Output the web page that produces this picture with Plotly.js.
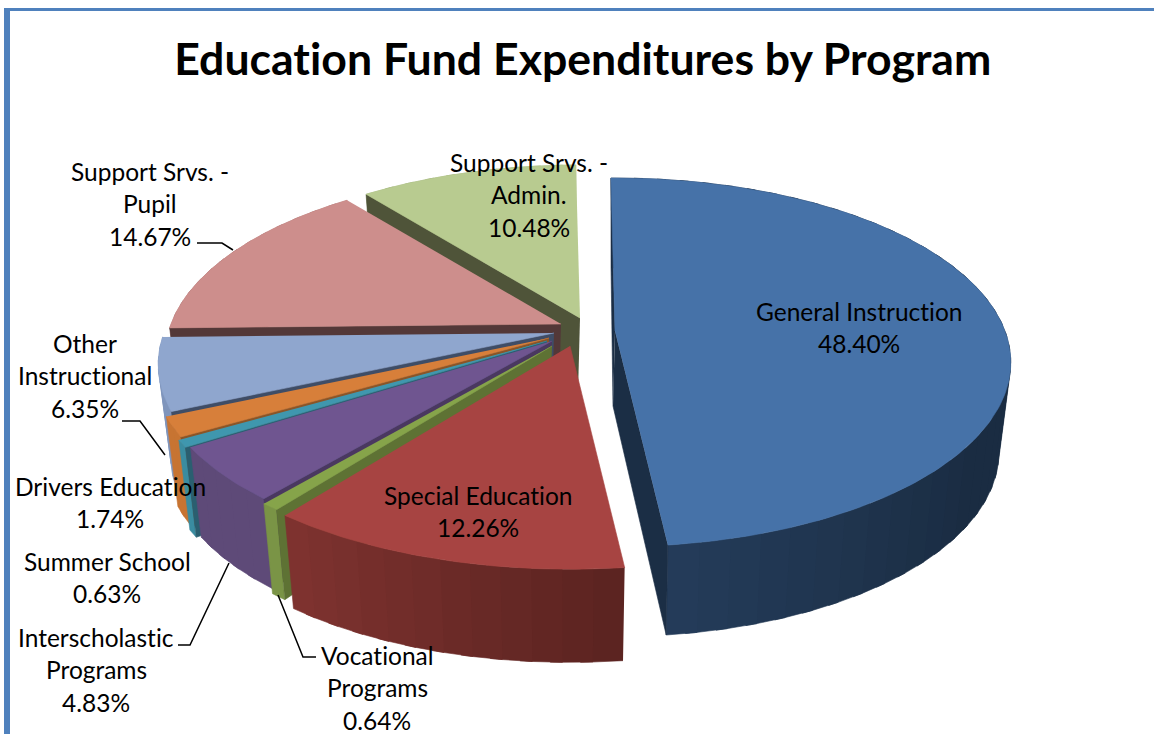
<!DOCTYPE html>
<html>
<head>
<meta charset="utf-8">
<script src="https://cdn.plot.ly/plotly-3.0.1.min.js"></script>
<style>
html,body{margin:0;padding:0;background:#fff;overflow:hidden}
#chart{width:1154px;height:734px}
text{font-variant-ligatures:none;font-feature-settings:"liga" 0}
</style>
</head>
<body>
<div id="chart"></div>
<script>
// Program shares, clockwise from twelve o'clock
const categories = ["General Instruction","Special Education","Vocational Programs","Interscholastic Programs","Summer School","Drivers Education","Other Instructional","Support Srvs. - Pupil","Support Srvs. - Admin."];
const shares = [48.40,12.26,0.64,4.83,0.63,1.74,6.35,14.67,10.48];

// Label wrapping for each program
const labelLines = [["General Instruction"],["Special Education"],["Vocational","Programs"],["Interscholastic","Programs"],["Summer School"],["Drivers Education"],["Other","Instructional"],["Support Srvs. -","Pupil"],["Support Srvs. -","Admin."]];
const labelX = [859,478,377,96,107,110,85,150,529];
const labelY = [311,495,655,637,561,486,343,171,162];

// Where each exploded wedge's tip sits on the page, and its size
const tipX = [615,570,552,552,547,549,554,561,580];
const tipY = [331,346,346,341,341,338,333,324,318];
const wedgeScale = [1,1.035,1,1,1,1,1,1,1];

// Wedge colours: top face, rim at its clockwise start, rim at its end, cut face
const topColor = ["#4672A8","#A74442","#86A44A","#6F5590","#3F97AE","#D77F3A","#8FA6CE","#CD8E8C","#B8CB90"];
const rimStart = ["#1A2C42","#5A2320","#7A9446","#5E4A78","#3A8CA0","#C77432","#7F95BC","#B07878","#A0B27C"];
const rimEnd   = ["#243C5A","#803330","#7A9446","#5E4A78","#3A8CA0","#C77432","#7F95BC","#B07878","#A0B27C"];
const wallColor = ["#1B2E45","#5A2320","#5E7234","#4A3860","#2A5F70","#8A5528","#3F4D66","#533838","#4F5439"];
// Fraction of a wedge's arc that stays at the start shade before the rim begins to lighten
const rimHold = [0.72,0,0,0,0,0,0,0,0];

// Leader lines from outside labels
const leaderX = [[197,222,233],[122,140,165],[178,190,229],[278,303,316]];
const leaderY = [[243,243,250],[421,421,455],[645,645,563],[595,657,657]];

// Perspective disc model
const scaleX = 390, scaleY = 179, depth = 0.17, startAngle = -0.7;
const drop = 75, dropRim = 15, lean = 0.97;
const rad = Math.PI / 180;

function project(theta, r, i) {
  const u = r * Math.sin(theta * rad), v = r * Math.cos(theta * rad);
  const w = 1 + depth * v;
  return [wedgeScale[i] * scaleX * u / w, -wedgeScale[i] * scaleY * v / w];
}
const topPoint = (theta, r, i) => {
  const p = project(theta, r, i);
  return [tipX[i] + p[0], tipY[i] + p[1]];
};
const lowPoint = (theta, r, i) => {
  const p = project(theta, r, i);
  return [tipX[i] + p[0] * lean - 2 * (1 - r), tipY[i] + p[1] + wedgeScale[i] * (drop + dropRim * r)];
};
function mix(a, b, t) {
  const c = s => [1, 3, 5].map(k => parseInt(s.substr(k, 2), 16));
  const x = c(a), y = c(b);
  return "rgb(" + x.map((n, k) => Math.round(n + (y[k] - n) * t)).join(",") + ")";
}
function poly(points, color) {
  return {
    type: "scatter", mode: "lines", fill: "toself", fillcolor: color,
    x: points.map(p => p[0]), y: points.map(p => p[1]),
    line: { color: color, width: 0.6 }, hoverinfo: "skip", showlegend: false
  };
}

// Angle span of each wedge from its share
const spans = [];
let running = startAngle;
shares.forEach(s => { spans.push([running, running + s * 3.6]); running += s * 3.6; });

function wedgeTraces(i) {
  const [a0, a1] = spans[i];
  const out = [];
  // outer rim, in narrow overlapping bands so the shading has no seams
  const steps = Math.max(1, Math.ceil((a1 - a0) / 4));
  for (let s = 0; s < steps; s++) {
    const b0 = a0 + (a1 - a0) * s / steps;
    const b1 = Math.min(a1, a0 + (a1 - a0) * (s + 1) / steps + 1.5);
    const quad = [];
    for (let k = 0; k <= 4; k++) quad.push(topPoint(b0 + (b1 - b0) * k / 4, 1, i));
    for (let k = 4; k >= 0; k--) quad.push(lowPoint(b0 + (b1 - b0) * k / 4, 1, i));
    const t = Math.max(0, ((s + 0.5) / steps - rimHold[i]) / (1 - rimHold[i]));
    out.push(poly(quad, mix(rimStart[i], rimEnd[i], t)));
  }
  // only cut faces turned toward the viewer are drawn
  const wall = a => poly([topPoint(a, 0, i), topPoint(a, 1, i), lowPoint(a, 1, i), lowPoint(a, 0, i)], wallColor[i]);
  if (Math.sin(a0 * rad) < 0) out.push(wall(a0));
  if (Math.sin(a1 * rad) > 0) out.push(wall(a1));
  const face = [topPoint(a0, 0, i)];
  const n = Math.max(2, Math.ceil(a1 - a0));
  for (let k = 0; k <= n; k++) face.push(topPoint(a0 + (a1 - a0) * k / n, 1, i));
  out.push(poly(face, topColor[i]));
  return out;
}

// Painted from the back of the pie to the front
const paintOrder = [8, 7, 6, 5, 4, 3, 2, 1, 0];
const traces = [];
paintOrder.forEach(i => traces.push(...wedgeTraces(i)));
leaderX.forEach((xs, k) => traces.push({
  type: "scatter", mode: "lines", x: xs, y: leaderY[k],
  line: { color: "#000", width: 1.5 }, hoverinfo: "skip", showlegend: false
}));

// One annotation per text line keeps the loose line spacing
const annotations = [];
categories.forEach((c, i) => {
  const lines = labelLines[i].concat([shares[i].toFixed(2) + "%"]);
  lines.forEach((t, k) => annotations.push({
    x: labelX[i], y: labelY[i] + k * 32.5, xref: "x", yref: "y", text: t, showarrow: false,
    xanchor: "center", yanchor: "middle", font: { family: "Lato", size: 24.5, color: "#000" }
  }));
});

const layout = {
  width: 1154, height: 734,
  margin: { l: 0, r: 0, t: 0, b: 0 },
  paper_bgcolor: "#fff", plot_bgcolor: "#fff",
  showlegend: false,
  title: {
    text: "Education Fund Expenditures by Program",
    font: { family: "Lato", size: 44.6, color: "#000", weight: 700 },
    x: 0.505, xref: "paper", xanchor: "center", y: 0.919, yref: "paper", yanchor: "middle"
  },
  xaxis: { range: [0, 1154], visible: false, fixedrange: true },
  yaxis: { range: [734, 0], visible: false, fixedrange: true },
  shapes: [
    { type: "rect", xref: "x", yref: "y", x0: 4, x1: 10, y0: 8, y1: 734, fillcolor: "#4F81BD", line: { width: 0 }, layer: "below" },
    { type: "rect", xref: "x", yref: "y", x0: 4, x1: 1154, y0: 8, y1: 11, fillcolor: "#4F81BD", line: { width: 0 }, layer: "below" }
  ],
  annotations: annotations
};
Plotly.newPlot("chart", traces, layout, { displayModeBar: false, staticPlot: true });
</script>
</body>
</html>
